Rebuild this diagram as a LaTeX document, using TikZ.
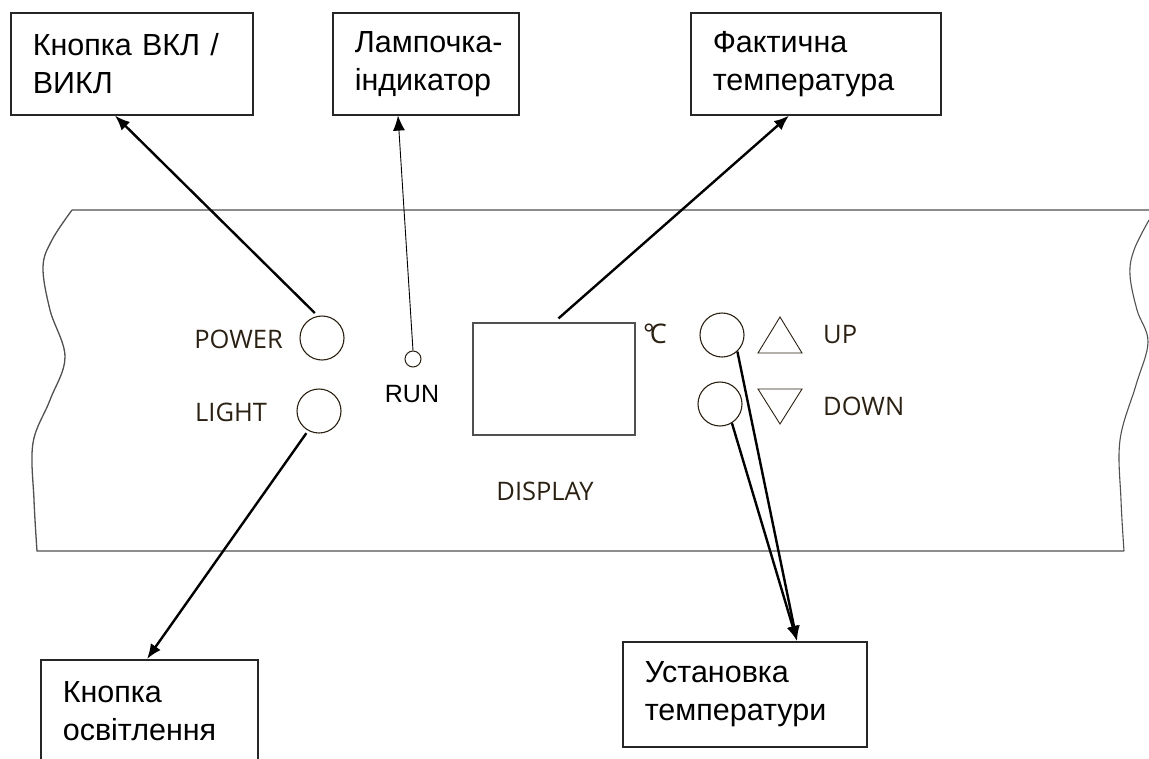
\documentclass[tikz,border=0pt]{standalone}
\usepackage{fontspec}
\setmainfont{Liberation Sans}
\newfontfamily\panelfont{Open Sans}
\usetikzlibrary{arrows.meta}
\definecolor{ink}{HTML}{2B2113}
\definecolor{rim}{HTML}{505050}

\begin{document}
\begin{tikzpicture}[x=1pt,y=-1pt,
		callout/.style={draw=black!85,line width=1.6pt,anchor=north west,align=left,
			text width=#1,inner xsep=22pt,inner ysep=0pt,minimum height=102pt,
			font=\fontsize{30.5}{38}\selectfont},
		knob/.style={circle,draw=ink,line width=1.1pt,minimum size=44pt,inner sep=0pt},
		paneltext/.style={text=ink,inner sep=0pt,font=\panelfont\fontsize{25.5}{28}\selectfont},
		pointer/.style={line width=2.4pt,-{Latex[length=15pt,width=12pt]}}]
		\useasboundingbox (0,0) rectangle (1149,758);
		\clip (0,0) rectangle (1149,758);
		
		% panel outline
		\draw[rim,line width=1.3pt] (1149,210) -- (72,210)
			plot[smooth,tension=0.6] coordinates {(72,210) (52,240) (43,267) (50,310) (65,357) (50,400) (33,443) (34,500) (37,551)}
			-- (1124,551);
		\draw[rim,line width=1.1pt] plot[smooth,tension=0.6] coordinates {(1149,220) (1134,250) (1130,275) (1137,310) (1148,342) (1136,385) (1120,440) (1121,500) (1124,551)};
		
		% controls
		\node[knob] (pw) at (322,338) {};
		\node[knob] (lt) at (319,411) {};
		\node[circle,draw=ink,line width=1pt,minimum size=16pt,inner sep=0pt] (run) at (413,359) {};
		\node[draw=rim,line width=1.3pt,minimum width=162pt,minimum height=112pt,inner sep=0pt] (disp) at (554,379) {};
		\node[knob] (up) at (722,335) {};
		\node[knob] (dn) at (720,404) {};
		\draw[ink,line width=0.9pt] (758,353) -- (802,353) -- (780,317) -- cycle;
		\draw[ink,line width=0.9pt] (758,389) -- (802,389) -- (780,424) -- cycle;
		
		\node[paneltext,anchor=east] (pwtxt) at (283,339) {POWER};
		\node[paneltext,anchor=west] (lttxt) at (195,412) {LIGHT};
		\node[inner sep=0pt,font=\fontsize{25}{28}\selectfont] (runtxt) at (412,394) {RUN};
		\node[paneltext] (disptxt) at (545,491) {DISPLAY};
		\node[paneltext,anchor=west,font=\panelfont\fontsize{27}{28}\selectfont] (deg) at (643,334) {\textdegree\kern-5pt C};
		\node[paneltext,anchor=west] (uptxt) at (823,335) {UP};
		\node[paneltext,anchor=west] (dntxt) at (823,406) {DOWN};
		
		% callouts
		\node[callout=198pt] (b1) at (10,12) {Кнопка ВКЛ /\\ВИКЛ};
		\node[callout=142pt] (b2) at (332,12) {\mbox{Лампочка-}\\індикатор};
		\node[callout=206pt] (b3) at (690,12) {Фактична\\температура};
		\node[callout=173pt] (b4) at (40,659) {Кнопка\\освітлення};
		\node[callout=200pt,minimum height=105pt] (b5) at (622,641) {Установка\\температури};
		
		\draw[pointer,shorten <=4pt] (pw.101) -- ([xshift=105pt]b1.south west);
		\draw[pointer,line width=0.9pt] (run.north) -- ([xshift=66pt]b2.south west);
		\draw[pointer,shorten <=6pt] (disp.north) -- ([xshift=99pt]b3.south west);
		\draw[pointer,shorten <=3pt] (lt.-119) -- ([xshift=107pt]b4.north west);
		\draw[pointer] (up.-47) -- ([xshift=175pt]b5.north west);
		\draw[pointer] (dn.-58) -- ([xshift=175pt]b5.north west);
		
	\end{tikzpicture}
\end{document}
